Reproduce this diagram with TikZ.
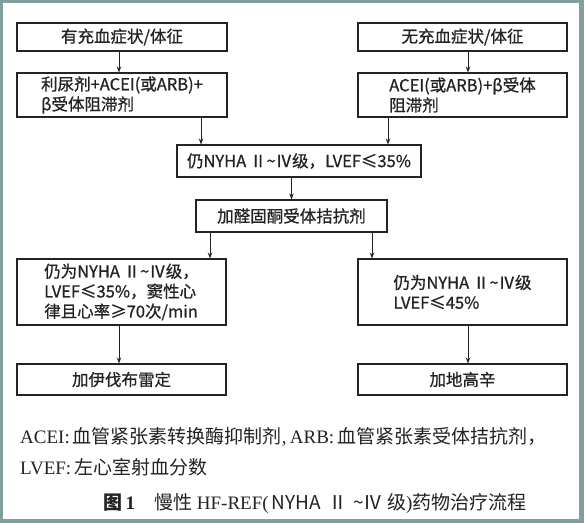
\documentclass[tikz,border=0pt]{standalone}
\usepackage{fontspec}
\setmainfont{Liberation Serif}
\newfontfamily\cjk{Noto Sans CJK SC}
\newfontfamily\cjkbox[FakeBold=0.8]{Noto Sans CJK SC}
\usetikzlibrary{arrows.meta}
\definecolor{framecol}{RGB}{128,160,160}
\definecolor{ink}{RGB}{35,35,35}
\begin{document}
\begin{tikzpicture}[x=1pt,y=-1pt,
  box/.style={draw=ink, line width=1.1pt, inner sep=0pt, text=ink, align=left,
    font={\cjkbox\fontsize{16.5}{20}\selectfont}},
  arr/.style={-{Stealth[length=6pt,width=4.5pt]}, line width=0.9pt, draw=ink},
  captext/.style={inner sep=0pt, text=ink, anchor=west, font={\fontsize{19}{22}\selectfont}}]
\useasboundingbox (0,0) rectangle (584,523);
\fill[framecol] (0,0) rectangle (584,523);
\fill[white] (3,3) rectangle (579,519);

\node[box, minimum width=210pt, minimum height=28pt] (b1) at (122,37) {有充血症状/体征};
\node[box, minimum width=210pt, minimum height=44pt] (b2) at (122,95) {利尿剂+ACEI(或ARB)+\\β受体阻滞剂};
\node[box, minimum width=209pt, minimum height=28pt] (b3) at (462.5,37) {无充血症状/体征};
\node[box, minimum width=209pt, minimum height=44pt] (b4) at (462.5,95) {ACEI(或ARB)+β受体\\阻滞剂};
\node[box, minimum width=244pt, minimum height=32pt] (b5) at (299,161) {仍NYHA Ⅱ\textasciitilde Ⅳ级，LVEF≤35\%};
\node[box, minimum width=191pt, minimum height=32pt] (b6) at (291.5,216) {加醛固酮受体拮抗剂};
\node[box, minimum width=209pt, minimum height=66pt] (b7) at (121.5,292) {仍为NYHA Ⅱ\textasciitilde Ⅳ级，\\LVEF≤35\%，窦性心\\律且心率≥70次/min};
\node[box, minimum width=209pt, minimum height=66pt] (b8) at (462.5,292) {仍为NYHA Ⅱ\textasciitilde Ⅳ级\\LVEF≤45\%};
\node[box, minimum width=209pt, minimum height=31pt] (b9) at (121.5,379.5) {加伊伐布雷定};
\node[box, minimum width=209pt, minimum height=31pt] (b10) at (462.5,379.5) {加地高辛};

\draw[arr] ([xshift=-3pt]b1.south) -- ([xshift=-3pt]b2.north);
\draw[arr] ([xshift=5.5pt]b3.south) -- ([xshift=5.5pt]b4.north);
\draw[arr] ([xshift=79pt]b2.south) -- ([xshift=79pt]b2.south |- b5.north);
\draw[arr] ([xshift=-74.5pt]b4.south) -- ([xshift=-74.5pt]b4.south |- b5.north);
\draw[arr] (b6.north |- b5.south) -- (b6.north);
\draw[arr] ([xshift=-81.5pt]b6.south) -- ([xshift=-81.5pt]b6.south |- b7.north);
\draw[arr] ([xshift=80.5pt]b6.south) -- ([xshift=80.5pt]b6.south |- b8.north);
\draw[arr] ([xshift=-2.5pt]b7.south) -- ([xshift=-2.5pt]b9.north);
\draw[arr] ([xshift=5.5pt]b8.south) -- ([xshift=5.5pt]b10.north);

\node[captext] (c1) at (20,437) {ACEI:\,{\cjk 血管紧张素转换酶抑制剂},\,ARB:\,{\cjk 血管紧张素受体拮抗剂，}};
\node[captext] (c2) at (20,467) {LVEF:\,{\cjk 左心室射血分数}};
\node[captext, anchor=center] (c3) at (315,503) {{\cjk\bfseries 图}\,\textbf{1}\hspace{1em}{\cjk 慢性} HF-REF(\,{\cjk NYHA\hspace{0.4em}Ⅱ\hspace{0.3em}\textasciitilde Ⅳ 级}){\cjk 药物治疗流程}};
\end{tikzpicture}
\end{document}
